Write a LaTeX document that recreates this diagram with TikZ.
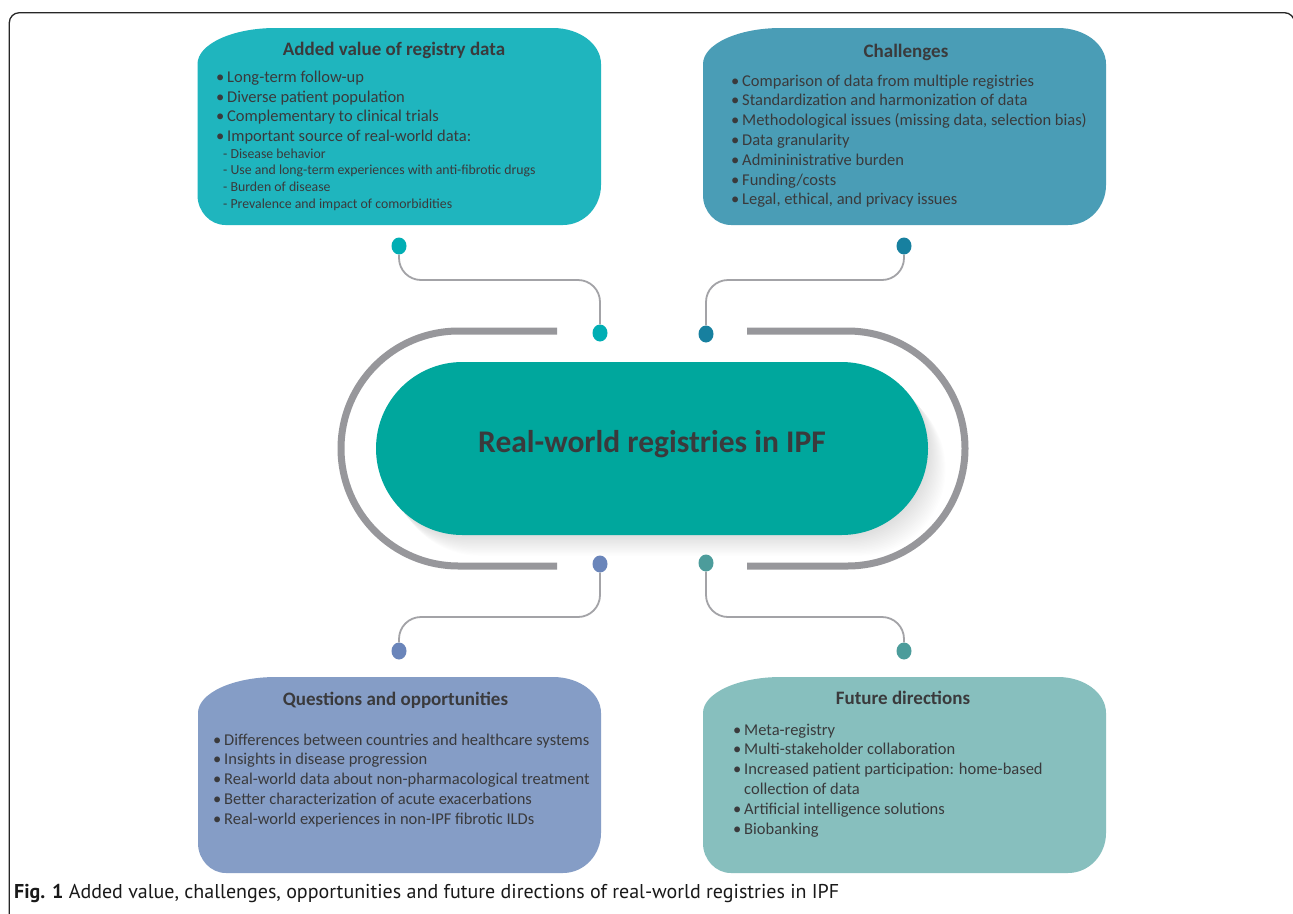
\documentclass[tikz,border=0pt]{standalone}
\usepackage{fontspec}
\setmainfont{Carlito}
\newfontfamily\capfont{PT Sans}
\usetikzlibrary{shapes.geometric}
\definecolor{cAdd}{HTML}{1FB5BE}
\definecolor{cChal}{HTML}{4A9DB6}
\definecolor{cQues}{HTML}{859DC6}
\definecolor{cFut}{HTML}{87BFBE}
\definecolor{cCenter}{HTML}{00A79D}
\definecolor{cRing}{HTML}{97979B}
\definecolor{cConn}{HTML}{A3A3A7}
\definecolor{dTL}{HTML}{00AEB4}
\definecolor{dTR}{HTML}{17809F}
\definecolor{dBL}{HTML}{6A85BA}
\definecolor{dBR}{HTML}{4C9C9B}
\definecolor{txt}{HTML}{3A3A3C}
\newcommand\bul{\makebox[11pt][l]{•}}
\newcommand\nobul{\hspace*{11pt}}
% leaf-shaped box: x1,y1,x2,y2,colour
\newcommand\leafbox[5]{%
  \fill[#5] (#1,#2+36) .. controls (#1,#2+36*0.4477) and (#1+78*0.4477,#2) .. (#1+78,#2)
    -- (#3-48,#2) .. controls (#3-48*0.4477,#2) and (#3,#2+36*0.4477) .. (#3,#2+36)
    -- (#3,#4-40) .. controls (#3,#4-40*0.4477) and (#3-38*0.4477,#4) .. (#3-38,#4)
    -- (#1+28,#4) .. controls (#1+28*0.4477,#4) and (#1,#4-30*0.4477) .. (#1,#4-30) -- cycle;}
\begin{document}
\begin{tikzpicture}[x=1pt,y=-1pt,
  ttl/.style={anchor=base, text=txt, inner sep=0pt, font=\fontsize{19}{22}\selectfont\bfseries},
  item/.style={anchor=base west, text=txt, inner sep=0pt, font=\fontsize{16.5}{19}\selectfont},
  subitem/.style={anchor=base west, text=txt, inner sep=0pt, font=\fontsize{13.8}{16}\selectfont},
  dotnode/.style={ellipse, draw=none, inner sep=0pt, minimum width=15pt, minimum height=17pt},
  conn/.style={draw=cConn, line width=1.8pt, rounded corners=22pt},
  ring/.style={draw=cRing, line width=7pt},
  frame/.style={draw=black!85, line width=1.3pt, rounded corners=10pt}
]
\useasboundingbox (0,0) rectangle (1293,913);
\fill[white] (0,0) rectangle (1293,913);
% frame
\draw[frame] (9.3,920) -- (9.3,12.7) -- (1294.5,12.7) -- (1294.5,920);

% four boxes
\leafbox{197.5}{28}{601}{225}{cAdd}
\leafbox{703}{28}{1106}{225}{cChal}
\leafbox{198}{677}{601}{873}{cQues}
\leafbox{703}{677}{1106}{873}{cFut}

% titles
\node[ttl] (tAdd) at (394,55.7) {Added value of registry data};
\node[ttl] (tChal) at (906,57.3) {Challenges};
\node[ttl] (tQues) at (395.5,705.7) {Questions and opportunities};
\node[ttl] (tFut) at (903,704.3) {Future directions};

% added value items
\foreach \t [count=\i] in {{\bul Long-term follow-up},{\bul Diverse patient population},
  {\bul Complementary to clinical trials},{\bul Important source of real-world data:}}
  \node[item] (add\i) at (216,{82.3+19.8*(\i-1)}) {\t};
\foreach \t [count=\i] in {{- Disease behavior},{- Use and long-term experiences with anti-fibrotic drugs},
  {- Burden of disease},{- Prevalence and impact of comorbidities}}
  \node[subitem] (addsub\i) at (223,{158.3+16.67*(\i-1)}) {\t};

% challenges
\foreach \t [count=\i] in {{\bul Comparison of data from multiple registries},
  {\bul Standardization and harmonization of data},
  {\bul Methodological issues (missing data, selection bias)},
  {\bul Data granularity},{\bul Admininistrative burden},{\bul Funding/costs},
  {\bul Legal, ethical, and privacy issues}}
  \node[item] (chal\i) at (731,{86+19.83*(\i-1)}) {\t};

% questions
\foreach \t [count=\i] in {{\bul Differences between countries and healthcare systems},
  {\bul Insights in disease progression},
  {\bul Real-world data about non-pharmacological treatment},
  {\bul Better characterization of acute exacerbations},
  {\bul Real-world experiences in non-IPF fibrotic ILDs}}
  \node[item] (ques\i) at (213,{745+19.75*(\i-1)}) {\t};

% future
\foreach \t [count=\i] in {{\bul Meta-registry},{\bul Multi-stakeholder collaboration},
  {\bul Increased patient participation: home-based},{\nobul collection of data},
  {\bul Artificial intelligence solutions},{\bul Biobanking}}
  \node[item] (fut\i) at (733,{735+19.8*(\i-1)}) {\t};

% ring
\draw[ring] (557,331) -- (458.5,331) arc[start angle=270, end angle=90, radius=117.5] -- (557,566);
\draw[ring] (747,331) -- (847.5,331) arc[start angle=-90, end angle=90, radius=117.5] -- (747,566);

% shadow of centre pill
\foreach \i in {1,...,16}
  \fill[black, opacity=0.009, rounded corners=86.5pt]
    ({376+1.1*\i},{362+1.3*\i}) rectangle ({928+1.1*\i},{535+1.3*\i});
% centre pill
\node[fill=cCenter, draw=none, rounded corners=86.5pt, minimum width=552pt, minimum height=173pt, inner sep=0pt] (pill) at (652,448.5) {};
\node[anchor=base, text=txt, inner sep=0pt, font=\fontsize{31.5}{36}\selectfont\bfseries] (pilltxt) at (652,452) {Real-world registries in IPF};

% dots
\node[dotnode, fill=dTL] (tlo) at (399,246) {};
\node[dotnode, fill=dTL] (tli) at (600,333) {};
\node[dotnode, fill=dTR] (tro) at (904,246) {};
\node[dotnode, fill=dTR] (tri) at (706,334) {};
\node[dotnode, fill=dBL] (bli) at (600,564) {};
\node[dotnode, fill=dBL] (blo) at (399,651) {};
\node[dotnode, fill=dBR] (bri) at (706,563) {};
\node[dotnode, fill=dBR] (bro) at (904,651) {};

% connectors
\draw[conn] (tlo) -- ++(0,34) -| (tli);
\draw[conn] (tro) -- ++(0,34) -| (tri);
\draw[conn] (bli) -- ++(0,53) -| (blo);
\draw[conn] (bri) -- ++(0,54) -| (bro);

% caption
\node[anchor=base west, inner sep=0pt, text=black!90, font=\capfont\fontsize{20}{23}\selectfont] (cap) at (14,898)
  {\textbf{Fig. 1} Added value, challenges, opportunities and future directions of real-world registries in IPF};
\end{tikzpicture}
\end{document}
